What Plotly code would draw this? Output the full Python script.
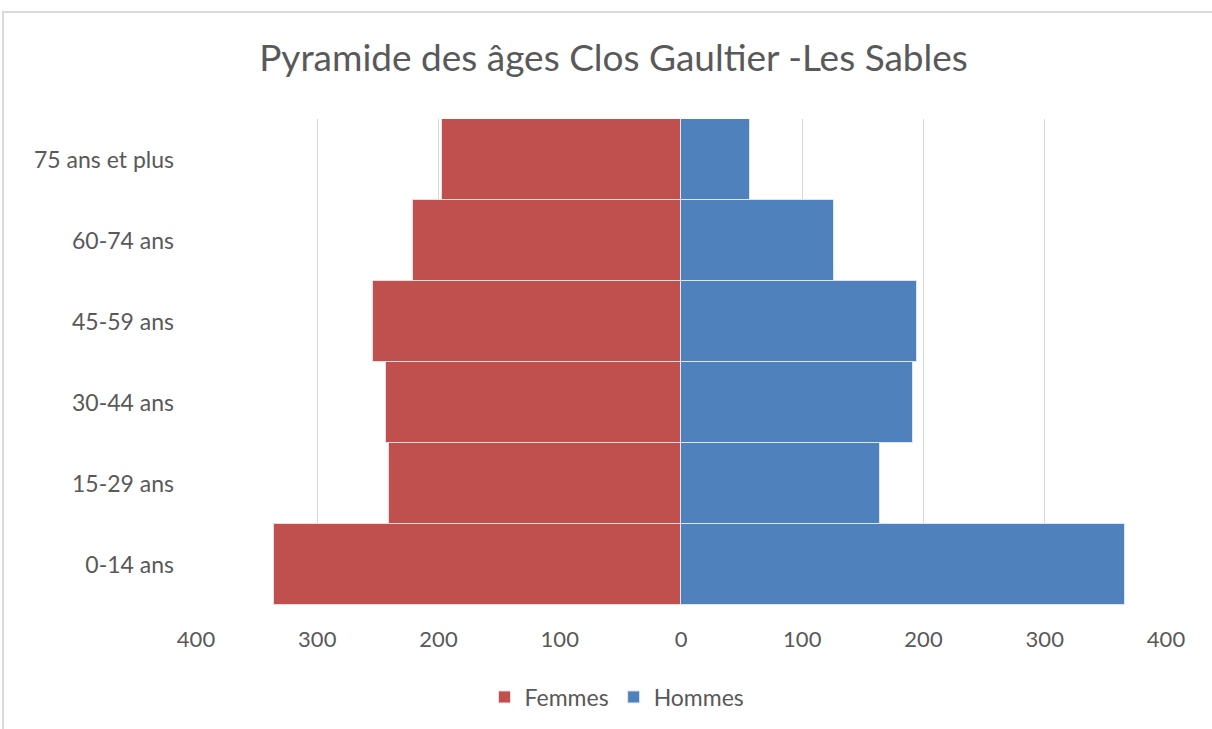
import plotly.graph_objects as go

categories = ["0-14 ans", "15-29 ans", "30-44 ans", "45-59 ans", "60-74 ans", "75 ans et plus"]
femmes = [336, 241, 243, 254, 221, 197]
hommes = [366, 164, 191, 195, 126, 57]
tick_vals = [-400, -300, -200, -100, 0, 100, 200, 300, 400]
tick_text = ["400", "300", "200", "100", "0", "100", "200", "300", "400"]

W, H = 1212, 729
L, R, T, B = 196, 46, 119, 124
pw, ph = W - L - R, H - T - B

fig = go.Figure()
fig.add_trace(go.Bar(
    y=categories, x=[-v for v in femmes], orientation="h", name="Femmes",
    marker=dict(color="#C0504D", line=dict(color="#F2DCDB", width=1)),
    customdata=femmes, hovertemplate="%{y}: %{customdata}<extra>Femmes</extra>",
))
fig.add_trace(go.Bar(
    y=categories, x=hommes, orientation="h", name="Hommes",
    marker=dict(color="#4F81BD", line=dict(color="#DCE6F2", width=1)),
))

font_fam = "Lato, 'Open Sans', sans-serif"
fig.update_layout(
    width=W, height=H,
    margin=dict(l=L, r=R, t=T, b=B, autoexpand=False),
    paper_bgcolor="white", plot_bgcolor="white",
    barmode="relative", bargap=0,
    title=dict(text="Pyramide des âges Clos Gaultier -Les Sables",
               x=613.5 / W, xanchor="center", xref="container",
               y=(H - 58) / H, yanchor="middle",
               font=dict(family=font_fam, size=37, color="#595959")),
    font=dict(family=font_fam, color="#595959", size=22),
    xaxis=dict(range=[-400, 400], tickvals=tick_vals, ticktext=tick_text,
               showgrid=True, gridcolor="#D9D9D9", gridwidth=1,
               zeroline=False, showline=False, ticks="", tickangle=0,
               ticklabelstandoff=19, tickfont=dict(size=22, color="#595959")),
    yaxis=dict(showgrid=False, zeroline=False, showline=False, ticks="",
               ticklabelstandoff=21, tickfont=dict(size=23, color="#595959")),
    legend=dict(orientation="h", x=(617 - L) / pw, xanchor="center",
                y=-(697 - (T + ph)) / ph, yanchor="middle",
                font=dict(size=23, color="#595959"), itemwidth=30,
                traceorder="normal"),
    showlegend=True,
)
fig.add_shape(type="rect", xref="paper", yref="paper",
              x0=(3 - L) / pw, x1=(W + 5 - L) / pw,
              y0=-(H + 5 - (T + ph)) / ph, y1=1 + (T - 12) / ph,
              line=dict(color="#D9D9D9", width=2), layer="below")

fig.write_html("out.html", config={"displayModeBar": False},
               post_script="document.body.style.margin='0px';")
